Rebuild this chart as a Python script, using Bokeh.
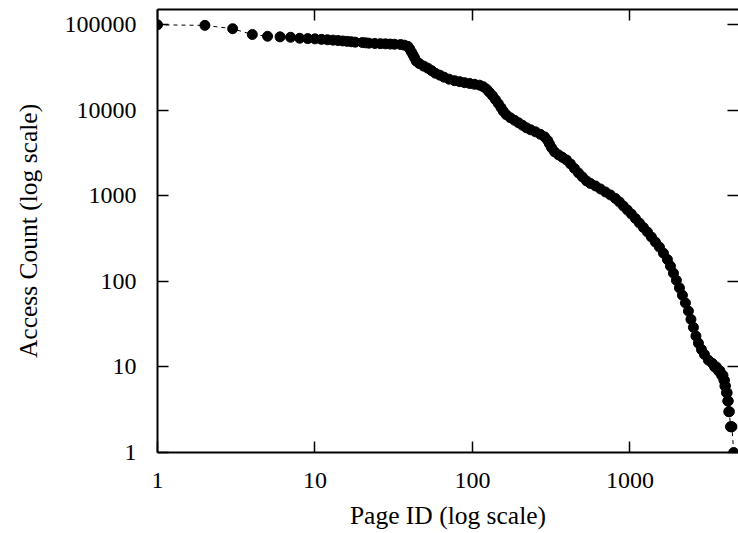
from bokeh.plotting import figure
from bokeh.models import LogAxis, FixedTicker, BasicTickFormatter, ColumnDataSource
from bokeh.embed import file_html
from bokeh.resources import INLINE

# ---- data ----
PAGE_ID = [
    1, 2, 3, 4, 5, 6, 7, 8, 9, 10,
    11, 12, 13, 14, 15, 16, 17, 18, 20, 21,
    22, 24, 26, 28, 30, 32, 35, 37, 39, 40,
    41, 42, 43, 44, 46, 49, 52, 55, 58, 62,
    66, 71, 77, 83, 89, 96, 103, 111, 117, 123,
    128, 134, 140, 146, 152, 157, 164, 174, 185, 196,
    208, 220, 234, 251, 270, 287, 300, 308, 318, 332,
    352, 373, 395, 419, 444, 471, 499, 530, 561, 604,
    650, 699, 752, 809, 858, 909, 964, 1022, 1084, 1149,
    1218, 1292, 1369, 1452, 1539, 1632, 1730, 1808, 1889, 1973,
    2062, 2154, 2251, 2351, 2439, 2530, 2624, 2722, 2844, 2972,
    3150, 3341, 3450, 3542, 3650, 3727, 3820, 3895, 3950, 3981,
    4010, 4040, 4100, 4142, 4180, 4210, 4241, 4280, 4347, 4400,
    4443, 4560,
]
ACCESS_COUNT = [
    100000, 98500, 90000, 77000, 73500, 72300, 71500, 69600, 69000, 68500,
    67600, 66900, 66200, 65500, 64750, 64050, 63400, 62700, 62000, 61500,
    61000, 60500, 60200, 59900, 59550, 59250, 58750, 57800, 55700, 52000,
    48000, 44300, 40800, 37600, 35200, 32900, 31150, 29130, 27220, 25790,
    24430, 23150, 22230, 21640, 21070, 20620, 20170, 19690, 18910, 17680,
    16300, 14840, 13310, 11950, 10730, 9760, 8880, 8190, 7655, 7155,
    6690, 6250, 5925, 5612, 5245, 4903, 4461, 4060, 3645, 3271,
    3016, 2820, 2636, 2366, 2095, 1856, 1666, 1495, 1398, 1307,
    1205, 1111, 1025, 932, 848, 761, 683, 613, 543, 481,
    426, 378, 330, 288, 252, 214, 180, 151, 125, 103,
    84, 69, 56, 45, 36, 29, 23, 19, 16, 14,
    12, 11, 10, 10, 9, 9, 8, 8, 7, 7,
    6, 6, 5, 5, 4, 4, 3, 3, 2, 2,
    2, 1,
]
X_TICKS = [1, 10, 100, 1000]
X_TICK_LABELS = ["1", "10", "100", "1000"]
Y_TICKS = [1, 10, 100, 1000, 10000, 100000]
Y_TICK_LABELS = ["1", "10", "100", "1000", "10000", "100000"]
X_TITLE = "Page ID (log scale)"
Y_TITLE = "Access Count (log scale)"

assert len(PAGE_ID) == len(ACCESS_COUNT)

FONT = "Liberation Serif"

src = ColumnDataSource(data=dict(x=PAGE_ID, y=ACCESS_COUNT))

p = figure(width=738, height=532,
           x_axis_type="log", y_axis_type="log",
           x_range=(1, 4890), y_range=(1, 151000),
           output_backend="svg", toolbar_location=None,
           min_border_left=157, min_border_right=0,
           min_border_top=9, min_border_bottom=80)
p.outline_line_color = None
p.grid.visible = False
p.background_fill_color = "white"
p.border_fill_color = "white"

p.line("x", "y", source=src, line_color="black", line_width=1, line_dash="4 4")
p.scatter("x", "y", source=src, size=10, fill_color="black", line_color="black")

def style_axis(ax, ticks, labels):
    ax.ticker = FixedTicker(ticks=ticks)
    ax.formatter = BasicTickFormatter(use_scientific=False)
    ax.major_label_overrides = dict(zip(ticks, labels))
    ax.major_tick_in = 11
    ax.major_tick_out = 0
    ax.minor_tick_in = 0
    ax.minor_tick_out = 0
    ax.major_tick_line_width = 1.5
    ax.major_tick_line_color = "black"
    ax.axis_line_width = 2
    ax.axis_line_color = "black"
    ax.major_label_text_font = FONT
    ax.major_label_text_font_size = "24px"
    ax.major_label_text_color = "black"
    ax.axis_label_text_font = FONT
    ax.axis_label_text_font_size = "25.5px"
    ax.axis_label_text_font_style = "normal"
    ax.axis_label_text_color = "black"

xa = p.xaxis[0]
style_axis(xa, X_TICKS, X_TICK_LABELS)
xa.axis_label = X_TITLE
xa.major_label_standoff = 20
xa.axis_label_standoff = 10

ya = p.yaxis[0]
style_axis(ya, Y_TICKS, Y_TICK_LABELS)
ya.axis_label = Y_TITLE
ya.major_label_standoff = 21
ya.axis_label_standoff = 19

# mirrored tick marks (no labels) on top and right, as in the reference
top = LogAxis()
style_axis(top, X_TICKS, [""] * len(X_TICKS))
top.major_label_text_font_size = "0px"
top.major_label_standoff = 0
p.add_layout(top, "above")

right = LogAxis()
style_axis(right, Y_TICKS, [""] * len(Y_TICKS))
right.major_label_text_font_size = "0px"
right.major_label_standoff = 0
right.axis_line_color = None
p.add_layout(right, "right")

open("out.html", "w").write(file_html(p, INLINE))
